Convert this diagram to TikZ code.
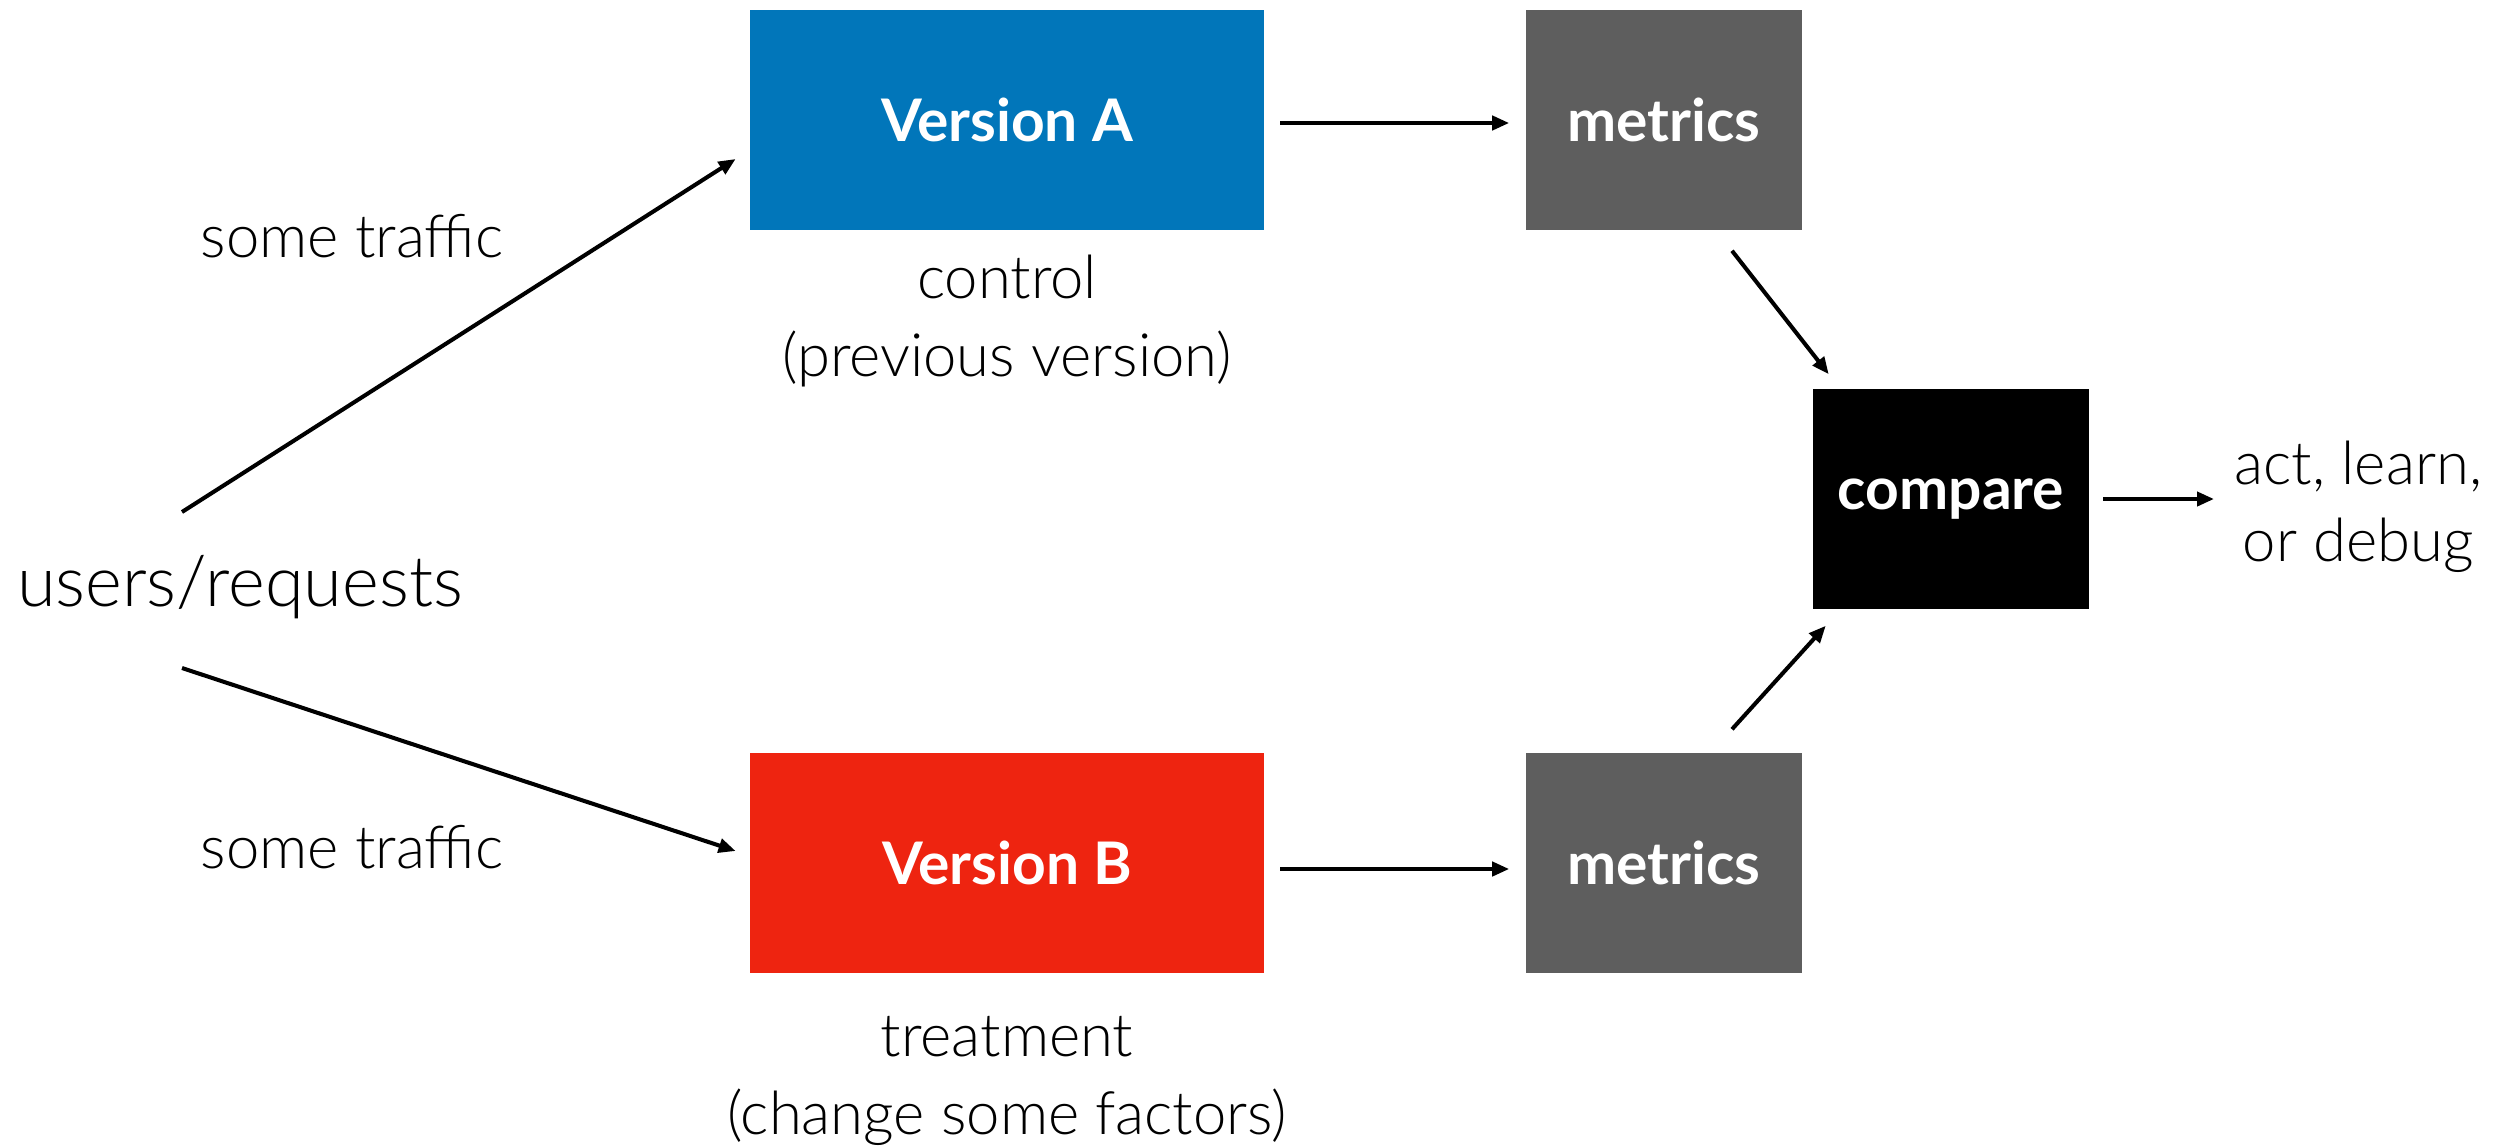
\documentclass[tikz,border=0pt]{standalone}
\usepackage{fontspec}
\setmainfont{Lato}[UprightFont=* Light, BoldFont=* Bold]
\usetikzlibrary{arrows.meta,calc}
\definecolor{verA}{RGB}{1,118,186}
\definecolor{verB}{RGB}{238,36,16}
\definecolor{metricgray}{RGB}{94,94,94}
\tikzset{
  box/.style={rectangle, inner sep=0pt, text=white, font=\bfseries\fontsize{16.7}{20}\selectfont},
  label/.style={align=center, font=\fontsize{17}{22}\selectfont},
  arr/.style={line width=1.15pt, -{Triangle[length=0.17cm,width=0.14cm]}},
}
\begin{document}
\begin{tikzpicture}[x=0.01cm,y=-0.01cm]
  \useasboundingbox (0,0) rectangle (2500,1145);

  % source
  \node[font=\fontsize{20}{24}\selectfont] (users) at (240,587) {users/requests};

  % the two variants
  \node[box, fill=verA, minimum width=5.13cm, minimum height=2.2cm] (A) at (1007,120) {Version A};
  \node[box, fill=verB, minimum width=5.13cm, minimum height=2.2cm] (B) at (1007,863) {Version B};

  % metric collectors
  \node[box, fill=metricgray, minimum width=2.76cm, minimum height=2.2cm] (mA) at (1664,120) {metrics};
  \node[box, fill=metricgray, minimum width=2.76cm, minimum height=2.2cm] (mB) at (1664,863) {metrics};

  % comparison
  \node[box, fill=black, minimum width=2.75cm, minimum height=2.2cm] (cmp) at (1951,499) {compare};

  % captions
  \node[label] (trA) at (352,236) {some traffic};
  \node[label] (trB) at (352,847) {some traffic};
  \node[label] (capA) at (1007,321) {control\\(previous version)};
  \node[label] (capB) at (1007,1081) {treatment\\(change some factors)};
  \node[label, anchor=west, inner sep=0pt] (out) at (2234,507) {act, learn,\\or debug};

  % connectors
  \draw[arr] ([shift={(-58,-75)}]users.center) -- ([shift={(-14,39)}]A.west);
  \draw[arr] ([shift={(-58,81)}]users.center) -- ([shift={(-14,-12)}]B.west);
  \draw[arr] ([shift={(16,3)}]A.east) -- ([shift={(-16,3)}]mA.west);
  \draw[arr] ([shift={(16,6)}]B.east) -- ([shift={(-16,6)}]mB.west);
  \draw[arr] ([shift={(68,20)}]mA.south) -- ([shift={(16,-14)}]cmp.north west);
  \draw[arr] ([shift={(68,-23)}]mB.north) -- ([shift={(13,16)}]cmp.south west);
  \draw[arr] ([xshift=0.14cm]cmp.east) -- ([xshift=-0.2cm]cmp.east -| out.west);
\end{tikzpicture}
\end{document}
